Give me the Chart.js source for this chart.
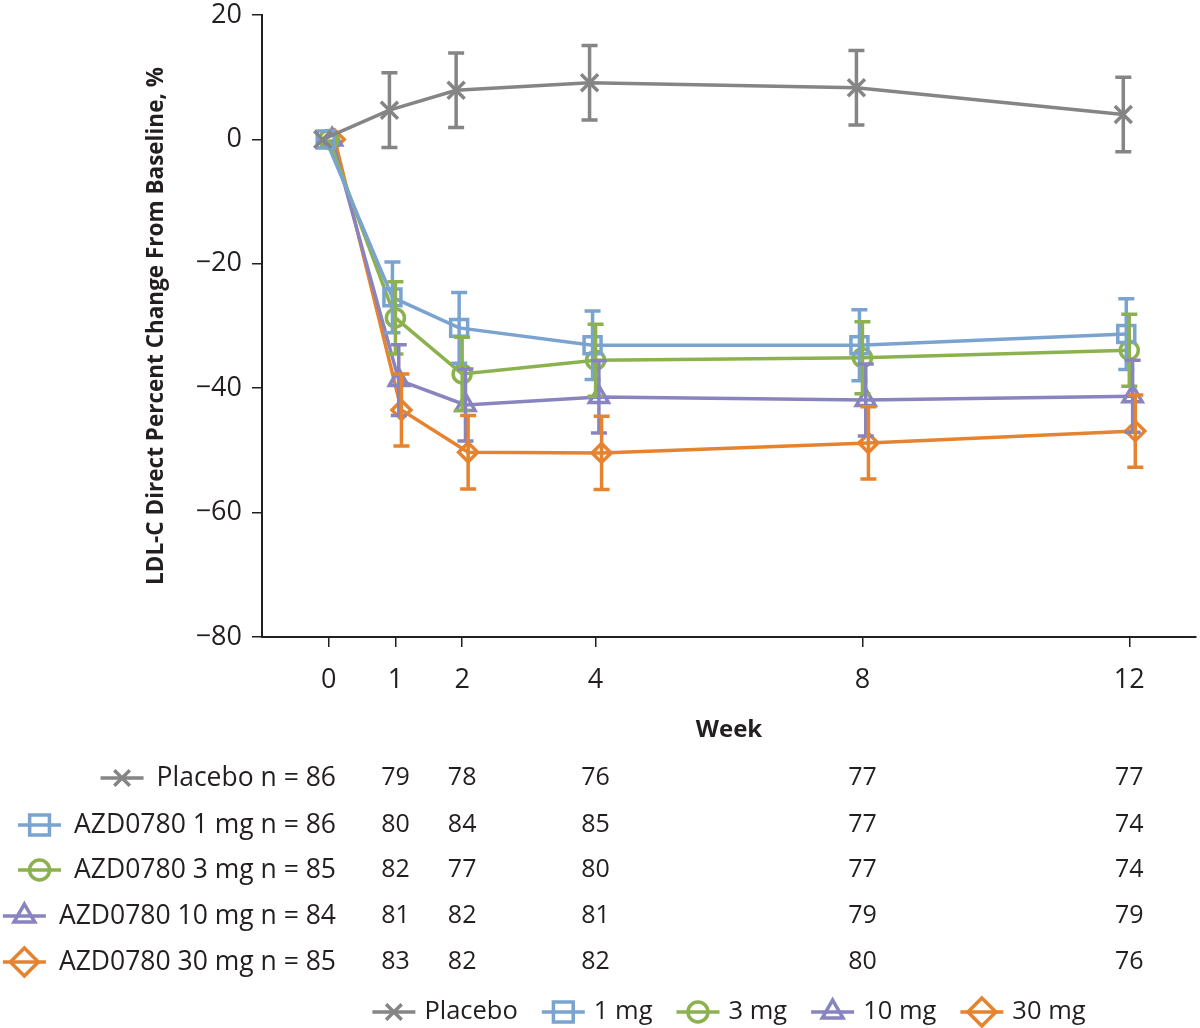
<!DOCTYPE html>
<html>
<head>
<meta charset="utf-8">
<script src="https://cdn.jsdelivr.net/npm/chart.js@4.4.1/dist/chart.umd.min.js"></script>
<style>
  html, body { margin: 0; padding: 0; background: #fff; overflow: hidden; }
  #wrap { width: 1200px; height: 1028px; position: relative; }
</style>
</head>
<body>
<div id="wrap"><canvas id="ldlChart"></canvas></div>
<script>
// Weeks on the x axis, y tick range
const weeks = [0, 1, 2, 4, 8, 12];
const yMin = -80, yMax = 20, yStep = 20;

// Series names (bottom legend) and table row labels
const seriesNames = ['Placebo', '1 mg', '3 mg', '10 mg', '30 mg'];
const tableLabels = ['Placebo n = 86', 'AZD0780 1 mg n = 86', 'AZD0780 3 mg n = 85',
                     'AZD0780 10 mg n = 84', 'AZD0780 30 mg n = 85'];

// Mean % change from baseline, per week
const placeboMean = [0, 4.7, 7.9, 9.1, 8.3, 4.0];
const mg1Mean     = [0, -25.4, -30.3, -33.1, -33.1, -31.3];
const mg3Mean     = [0, -28.7, -37.7, -35.5, -35.1, -33.9];
const mg10Mean    = [0, -38.7, -42.7, -41.4, -41.9, -41.3];
const mg30Mean    = [0, -43.5, -50.3, -50.4, -48.8, -46.9];

// Error bar half-lengths
const placeboErr = [0, 6.0, 6.0, 6.0, 6.0, 6.0];
const mg1Err     = [0, 5.7, 5.7, 5.5, 5.7, 5.7];
const mg3Err     = [0, 5.8, 5.9, 5.8, 5.8, 5.8];
const mg10Err    = [0, 5.7, 5.8, 5.8, 5.8, 5.8];
const mg30Err    = [0, 5.8, 5.9, 5.9, 5.8, 5.8];

// Patients at weeks 1, 2, 4, 8, 12
const nWeeks   = [1, 2, 4, 8, 12];
const placeboN = [79, 78, 76, 77, 77];
const mg1N     = [80, 84, 85, 77, 74];
const mg3N     = [82, 77, 80, 77, 74];
const mg10N    = [81, 82, 81, 79, 79];
const mg30N    = [83, 82, 82, 80, 76];

const means = [placeboMean, mg1Mean, mg3Mean, mg10Mean, mg30Mean];
const errs = [placeboErr, mg1Err, mg3Err, mg10Err, mg30Err];
const counts = [placeboN, mg1N, mg3N, mg10N, mg30N];

// look of each series
const styles = [
  { color: '#858585', point: 'crossRot', r: 12, legendR: 11, dodge: -0.09 },
  { color: '#7aa3cf', point: 'rect',     r: 12, legendR: 14, dodge: -0.045 },
  { color: '#8cb24f', point: 'circle',   r: 9,  legendR: 10, dodge: 0 },
  { color: '#8884c0', point: 'triangle', r: 11, legendR: 12, dodge: 0.05 },
  { color: '#e5832f', point: 'rectRot',  r: 9.5, legendR: 14, dodge: 0.09 }
];

const FONT = '"Open Sans", "Noto Sans", sans-serif';
const INK = '#231f20';

function minus(v) { return v < 0 ? '\u2212' + Math.abs(v) : String(v); }

// same geometry as Chart.js point styles
function drawMarker(ctx, style, x, y, r, color, lw) {
  ctx.save();
  ctx.strokeStyle = color;
  ctx.lineWidth = lw;
  ctx.beginPath();
  if (style === 'crossRot') {
    const d = r * Math.SQRT1_2;
    ctx.moveTo(x - d, y - d); ctx.lineTo(x + d, y + d);
    ctx.moveTo(x + d, y - d); ctx.lineTo(x - d, y + d);
  } else if (style === 'rect') {
    const s = r * Math.SQRT1_2;
    ctx.rect(x - s, y - s, 2 * s, 2 * s);
  } else if (style === 'circle') {
    ctx.arc(x, y, r, 0, Math.PI * 2);
  } else if (style === 'triangle') {
    let a = 0;
    ctx.moveTo(x + Math.sin(a) * r, y - Math.cos(a) * r);
    a += Math.PI * 2 / 3;
    ctx.lineTo(x + Math.sin(a) * r, y - Math.cos(a) * r);
    a += Math.PI * 2 / 3;
    ctx.lineTo(x + Math.sin(a) * r, y - Math.cos(a) * r);
    ctx.closePath();
  } else if (style === 'rectRot') {
    ctx.moveTo(x - r, y); ctx.lineTo(x, y - r); ctx.lineTo(x + r, y); ctx.lineTo(x, y + r);
    ctx.closePath();
  }
  ctx.stroke();
  ctx.restore();
}

function drawLegendSymbol(ctx, i, x0, y, len) {
  const st = styles[i];
  ctx.save();
  ctx.strokeStyle = st.color;
  ctx.lineWidth = 3.5;
  ctx.beginPath();
  ctx.moveTo(x0, y); ctx.lineTo(x0 + len, y);
  ctx.stroke();
  ctx.restore();
  drawMarker(ctx, st.point, x0 + len / 2, y, st.legendR, st.color, 3.5);
}

const extrasPlugin = {
  id: 'extras',
  afterDatasetsDraw(chart) {
    const ctx = chart.ctx;
    const xs = chart.scales.x, ys = chart.scales.y;
    // error bars
    means.forEach((m, i) => {
      const st = styles[i];
      ctx.save();
      ctx.strokeStyle = st.color;
      ctx.lineWidth = 3.5;
      m.forEach((v, k) => {
        const e = errs[i][k];
        if (!e) return;
        const px = xs.getPixelForValue(weeks[k] + st.dodge);
        const top = ys.getPixelForValue(v + e), bot = ys.getPixelForValue(v - e);
        ctx.beginPath();
        ctx.moveTo(px, top); ctx.lineTo(px, bot);
        ctx.moveTo(px - 8, top); ctx.lineTo(px + 8, top);
        ctx.moveTo(px - 8, bot); ctx.lineTo(px + 8, bot);
        ctx.stroke();
      });
      ctx.restore();
    });
  },
  afterDraw(chart) {
    const ctx = chart.ctx;
    const xs = chart.scales.x;
    const area = chart.chartArea;
    const rowY = [778, 825, 870, 916, 962];
    ctx.save();
    ctx.fillStyle = INK;
    ctx.textBaseline = 'middle';
    // number-at-risk table
    tableLabels.forEach((lab, i) => {
      const y = rowY[i];
      ctx.font = '26.5px ' + FONT;
      ctx.textAlign = 'right';
      ctx.fillText(lab, 336, y);
      const w = ctx.measureText(lab).width;
      drawLegendSymbol(ctx, i, 336 - w - 13 - 43, y, 43);
      ctx.fillStyle = INK;
      ctx.font = '25px ' + FONT;
      ctx.textAlign = 'center';
      counts[i].forEach((n, k) => {
        ctx.fillText(String(n), xs.getPixelForValue(nWeeks[k]), y);
      });
    });
    // bottom legend
    ctx.font = '25.5px ' + FONT;
    const ly = 1012, lineLen = 43, gap = 9, itemGap = 24;
    const widths = seriesNames.map(s => ctx.measureText(s).width);
    const total = widths.reduce((a, w) => a + lineLen + gap + w, 0) + itemGap * (seriesNames.length - 1);
    let x = (area.left + area.right) / 2 - total / 2;
    ctx.textAlign = 'left';
    seriesNames.forEach((s, i) => {
      drawLegendSymbol(ctx, i, x, ly, lineLen);
      ctx.fillStyle = INK;
      ctx.fillText(s, x + lineLen + gap, ly);
      x += lineLen + gap + widths[i] + itemGap;
    });
    ctx.restore();
  }
};

const datasets = means.map((m, i) => ({
  label: seriesNames[i],
  data: m.map((v, k) => ({ x: weeks[k] + styles[i].dodge, y: v })),
  borderColor: styles[i].color,
  backgroundColor: 'transparent',
  borderWidth: 3.5,
  pointStyle: styles[i].point,
  pointRadius: styles[i].r,
  pointBorderWidth: 3.5,
  pointBorderColor: styles[i].color,
  pointBackgroundColor: 'transparent',
  tension: 0,
  clip: false
}));

new Chart(document.getElementById('ldlChart').getContext('2d'), {
  type: 'line',
  data: { datasets },
  options: {
    responsive: true,
    maintainAspectRatio: false,
    devicePixelRatio: 1,
    animation: false,
    layout: { autoPadding: false, padding: { top: 15, right: 4, bottom: 283, left: 0 } },
    plugins: { legend: { display: false }, tooltip: { enabled: false } },
    scales: {
      x: {
        type: 'linear',
        min: -1,
        max: 13,
        afterBuildTicks: s => { s.ticks = weeks.map(v => ({ value: v })); },
        afterFit: s => { s.height = 108; s.paddingLeft = 0; s.paddingRight = 0; },
        grid: { drawOnChartArea: false, drawTicks: true, tickLength: 10, color: INK, lineWidth: 1.5 },
        border: { display: true, color: INK, width: 2 },
        ticks: { color: INK, font: { family: FONT, size: 27 }, padding: 17, maxRotation: 0 },
        title: { display: true, text: 'Week', color: INK, font: { family: FONT, size: 24, weight: 'bold' },
                 padding: { top: 0, bottom: 0 } }
      },
      y: {
        min: yMin,
        max: yMax,
        afterFit: s => { s.width = 262; s.paddingTop = 0; s.paddingBottom = 0; },
        grid: { drawOnChartArea: false, drawTicks: true, tickLength: 10, color: INK, lineWidth: 1.5 },
        border: { display: true, color: INK, width: 2 },
        ticks: { stepSize: yStep, color: INK, font: { family: FONT, size: 27 }, padding: 10,
                 callback: v => minus(v) },
        title: { display: true, text: 'LDL-C Direct Percent Change From Baseline, %', color: INK,
                 font: { family: FONT, size: 22.5, weight: 'bold' }, padding: { top: 143, bottom: 0 } }
      }
    }
  },
  plugins: [extrasPlugin]
});
</script>
</body>
</html>
